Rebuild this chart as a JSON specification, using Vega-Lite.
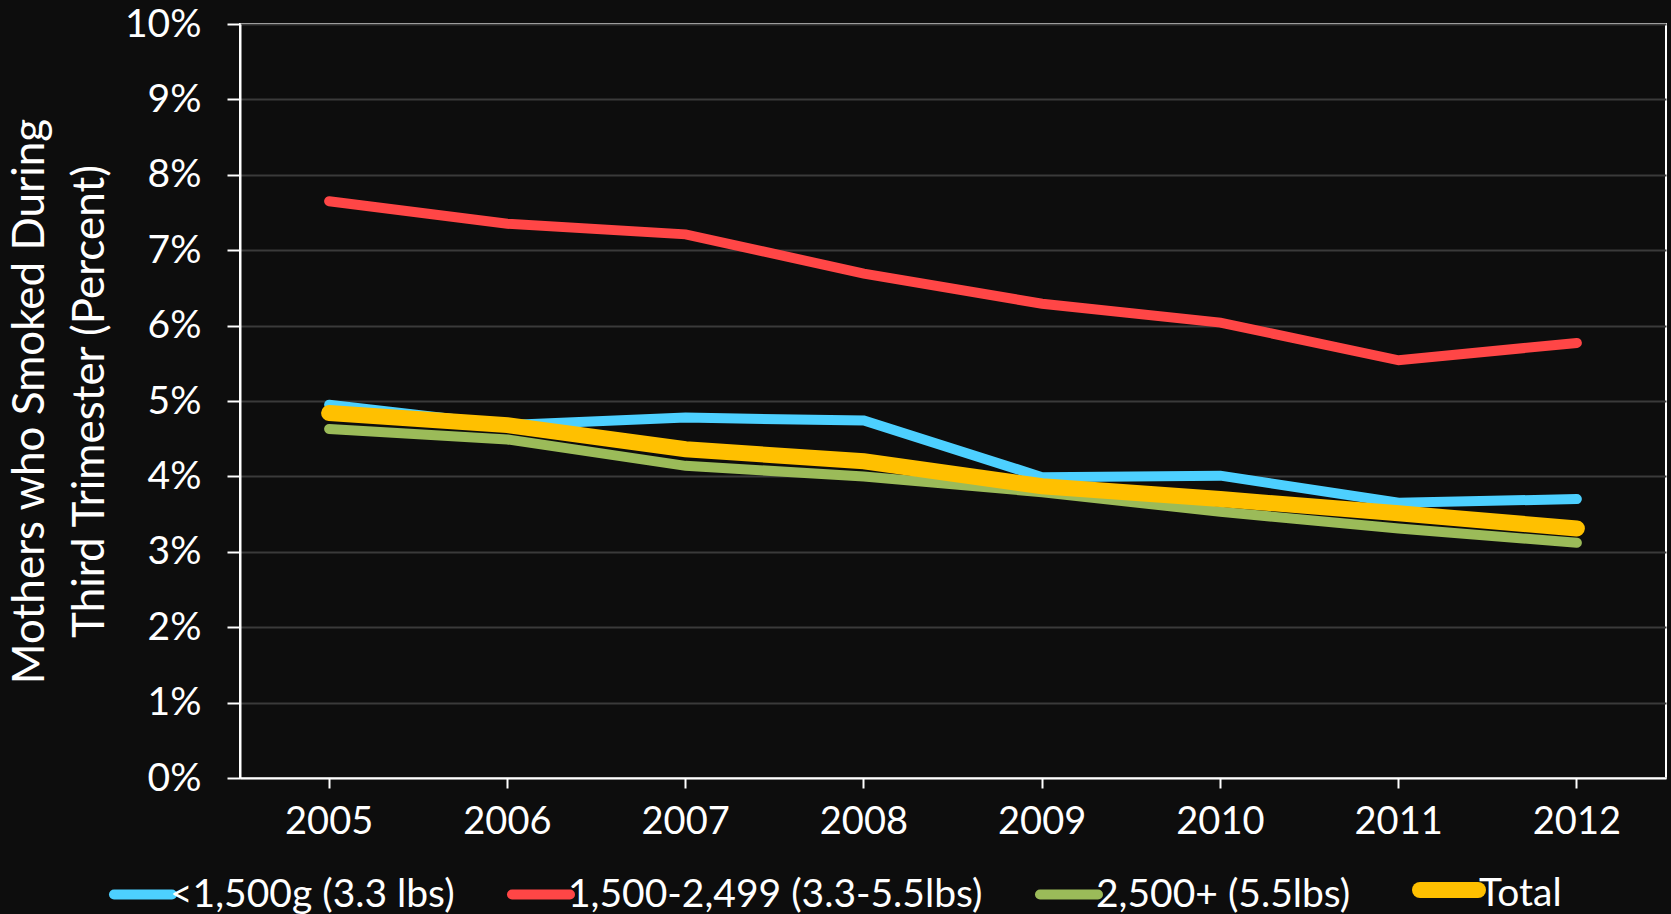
{
  "$schema": "https://vega.github.io/schema/vega-lite/v6.json",
  "width": 1426,
  "height": 754,
  "autosize": "none",
  "padding": {"left": 240, "top": 24, "right": 5, "bottom": 136},
  "background": "#0d0d0d",
  "config": {
    "font": "Lato",
    "view": {"stroke": "#ffffff", "strokeWidth": 2}
  },
  "data": {
    "values": [
      {"year": "2005", "series": "<1,500g (3.3 lbs)", "pct": 4.95},
      {"year": "2006", "series": "<1,500g (3.3 lbs)", "pct": 4.68},
      {"year": "2007", "series": "<1,500g (3.3 lbs)", "pct": 4.78},
      {"year": "2008", "series": "<1,500g (3.3 lbs)", "pct": 4.74},
      {"year": "2009", "series": "<1,500g (3.3 lbs)", "pct": 3.99},
      {"year": "2010", "series": "<1,500g (3.3 lbs)", "pct": 4.01},
      {"year": "2011", "series": "<1,500g (3.3 lbs)", "pct": 3.65},
      {"year": "2012", "series": "<1,500g (3.3 lbs)", "pct": 3.70},
      {"year": "2005", "series": "1,500-2,499 (3.3-5.5lbs)", "pct": 7.65},
      {"year": "2006", "series": "1,500-2,499 (3.3-5.5lbs)", "pct": 7.35},
      {"year": "2007", "series": "1,500-2,499 (3.3-5.5lbs)", "pct": 7.21},
      {"year": "2008", "series": "1,500-2,499 (3.3-5.5lbs)", "pct": 6.69},
      {"year": "2009", "series": "1,500-2,499 (3.3-5.5lbs)", "pct": 6.29},
      {"year": "2010", "series": "1,500-2,499 (3.3-5.5lbs)", "pct": 6.04},
      {"year": "2011", "series": "1,500-2,499 (3.3-5.5lbs)", "pct": 5.54},
      {"year": "2012", "series": "1,500-2,499 (3.3-5.5lbs)", "pct": 5.77},
      {"year": "2005", "series": "2,500+ (5.5lbs)", "pct": 4.63},
      {"year": "2006", "series": "2,500+ (5.5lbs)", "pct": 4.49},
      {"year": "2007", "series": "2,500+ (5.5lbs)", "pct": 4.14},
      {"year": "2008", "series": "2,500+ (5.5lbs)", "pct": 4.00},
      {"year": "2009", "series": "2,500+ (5.5lbs)", "pct": 3.79},
      {"year": "2010", "series": "2,500+ (5.5lbs)", "pct": 3.53},
      {"year": "2011", "series": "2,500+ (5.5lbs)", "pct": 3.31},
      {"year": "2012", "series": "2,500+ (5.5lbs)", "pct": 3.12},
      {"year": "2005", "series": "Total", "pct": 4.84},
      {"year": "2006", "series": "Total", "pct": 4.68},
      {"year": "2007", "series": "Total", "pct": 4.36},
      {"year": "2008", "series": "Total", "pct": 4.20},
      {"year": "2009", "series": "Total", "pct": 3.87},
      {"year": "2010", "series": "Total", "pct": 3.70},
      {"year": "2011", "series": "Total", "pct": 3.51},
      {"year": "2012", "series": "Total", "pct": 3.31}
    ]
  },
  "mark": {"type": "line", "strokeCap": "round", "strokeJoin": "miter"},
  "encoding": {
    "x": {
      "field": "year",
      "type": "ordinal",
      "scale": {"type": "band", "paddingInner": 0, "paddingOuter": 0},
      "axis": {
        "title": null,
        "labelAngle": 0,
        "labelColor": "#ffffff",
        "labelFontSize": 38,
        "labelPadding": 15,
        "tickColor": "#ffffff",
        "tickWidth": 2,
        "tickSize": 10,
        "domainColor": "#ffffff",
        "domainWidth": 2,
        "grid": false,
        "encode": {
          "ticks": {"update": {"y": {"value": -10}, "y2": {"value": 10}}}
        }
      }
    },
    "y": {
      "field": "pct",
      "type": "quantitative",
      "scale": {"domain": [0, 10], "nice": false},
      "axis": {
        "title": ["Mothers who Smoked During", "Third Trimester (Percent)"],
        "titleColor": "#ffffff",
        "titleFontSize": 44,
        "titleFontWeight": "normal",
        "titleLineHeight": 60,
        "titlePadding": 12,
        "values": [0, 1, 2, 3, 4, 5, 6, 7, 8, 9, 10],
        "labelExpr": "datum.value + '%'",
        "labelColor": "#ffffff",
        "labelFontSize": 39,
        "labelPadding": 26,
        "tickColor": "#ffffff",
        "tickWidth": 2,
        "tickSize": 13,
        "domainColor": "#ffffff",
        "domainWidth": 2,
        "gridColor": "#3a3a3a",
        "gridWidth": 2
      }
    },
    "color": {
      "field": "series",
      "type": "nominal",
      "scale": {
        "domain": ["<1,500g (3.3 lbs)", "1,500-2,499 (3.3-5.5lbs)", "2,500+ (5.5lbs)", "Total"],
        "range": ["#4dd0ff", "#ff4646", "#9bbb59", "#ffc000"]
      },
      "legend": {
        "title": null,
        "orient": "none",
        "direction": "horizontal",
        "legendX": -131,
        "legendY": 829,
        "symbolType": "stroke",
        "symbolSize": 3364,
        "symbolStrokeWidth": 10,
        "labelColor": "#ffffff",
        "labelFontSize": 39,
        "labelLimit": 0,
        "labelOffset": -7,
        "columnPadding": 37,
        "encode": {
          "symbols": {
            "update": {
              "strokeCap": {"value": "round"},
              "strokeWidth": {"signal": "datum.value === 'Total' ? 15 : 10"}
            }
          },
          "labels": {
            "update": {
              "dy": {"signal": "datum.value === 'Total' ? 4 : 0"}
            }
          }
        }
      }
    },
    "strokeWidth": {
      "field": "series",
      "type": "nominal",
      "scale": {
        "type": "ordinal",
        "domain": ["<1,500g (3.3 lbs)", "1,500-2,499 (3.3-5.5lbs)", "2,500+ (5.5lbs)", "Total"],
        "range": [10, 10, 10, 16]
      },
      "legend": null
    }
  }
}
